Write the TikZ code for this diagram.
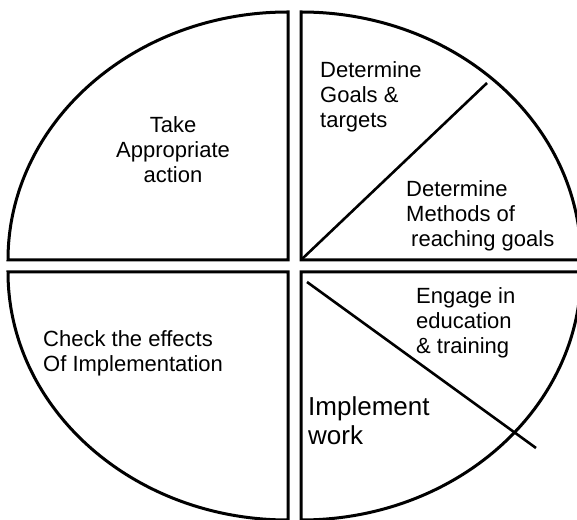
\documentclass[tikz,border=0pt]{standalone}
\usepackage{fontspec}
\setmainfont{Liberation Sans}
\usetikzlibrary{positioning}

\tikzset{
	quarter/.style={line width=3pt, line join=miter},
	cut/.style={line width=2.6pt},
	label/.style={inner sep=0pt, font=\fontsize{22}{25}\selectfont},
}

\begin{document}
\begin{tikzpicture}[x=1pt, y=1pt]
	\useasboundingbox (0,0) rectangle (577,519);

	% Quarters
	\draw[quarter] (288,259) -- (288,507) arc[start angle=90, end angle=180, x radius=280, y radius=248] -- cycle;
	\draw[quarter] (301,259) -- (581,259) arc[start angle=0, end angle=90, x radius=280, y radius=248] -- cycle;
	\draw[quarter] (288,247) -- (8,247) arc[start angle=180, end angle=270, x radius=280, y radius=248] -- cycle;
	\draw[quarter] (301,247) -- (301,-1) arc[start angle=270, end angle=360, x radius=280, y radius=248] -- cycle;

	% Splits
	\draw[cut] (302,260) -- (487,436);
	\draw[cut] (307,237) -- (536,71);

	% Texts (base = last line)
	\node[label, align=center, anchor=base] (action) at (173,336) {Take\\Appropriate\\action};
	\node[label, align=left, anchor=base west] (goals) at (320,391) {Determine\\Goals \&\\targets};
	\node[label, align=left, anchor=base west] (methods) at (406,272) {Determine\\Methods of\\\hspace{5pt}reaching goals};
	\node[label, align=left, anchor=base west] (check) at (43,147) {Check the effects\\Of Implementation};
	\node[label, align=left, anchor=base west] (training) at (416,165) {Engage in\\education\\\& training};
	\node[label, align=left, anchor=base west, font=\fontsize{26}{29}\selectfont] (implement) at (308,75) {Implement\\work};
\end{tikzpicture}
\end{document}
